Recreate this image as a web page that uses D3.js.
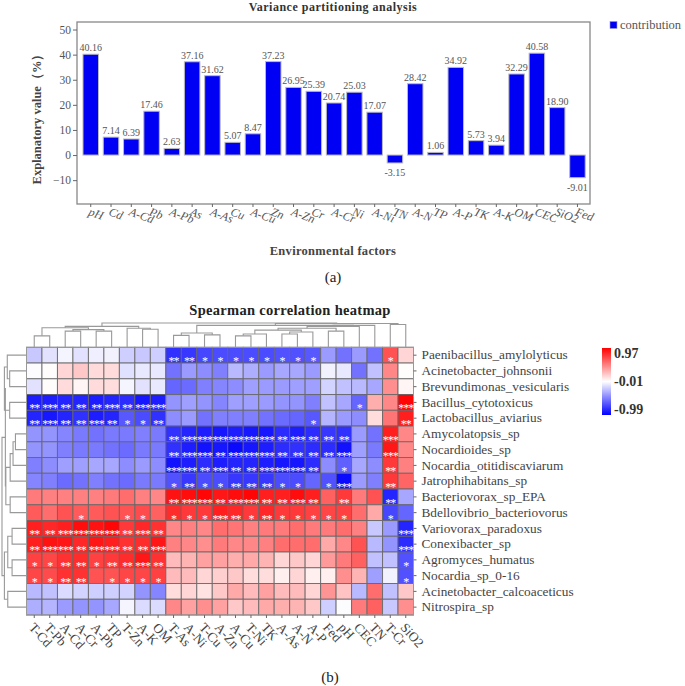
<!DOCTYPE html>
<html><head><meta charset="utf-8">
<script src="https://cdn.jsdelivr.net/npm/d3@7"></script>
<style>
html,body{margin:0;padding:0;background:#fff}
svg{display:block}
text{font-family:"Liberation Serif",serif}
</style></head><body>
<svg id="c" width="685" height="686"></svg>
<script>
// Panel (a)
const factors=["pH","Cd","A-Cd","Pb","A-Pb","As","A-As","Cu","A-Cu","Zn","A-Zn","Cr","A-Cr","Ni","A-Ni","TN","A-N","TP","A-P","TK","A-K","OM","CEC","SiO2","Fed"];
const contribution=[40.16,7.14,6.39,17.46,2.63,37.16,31.62,5.07,8.47,37.23,26.95,25.39,20.74,25.03,17.07,-3.15,28.42,1.06,34.92,5.73,3.94,32.29,40.58,18.90,-9.01];
const yTicks=[-10,0,10,20,30,40,50];
// Panel (b)
const colLabels=["T-Cd","T-Pb","A-Cd","A-Cr","A-Pb","TP","T-Zn","A-K","OM","T-As","A-Ni","T-Cu","A-Zn","A-Cu","T-Ni","TK","A-As","A-N","A-P","Fed","pH","CEC","TN","T-Cr","SiO2"];
const rowLabels=["Paenibacillus_amylolyticus","Acinetobacter_johnsonii","Brevundimonas_vesicularis","Bacillus_cytotoxicus","Lactobacillus_aviarius","Amycolatopsis_sp","Nocardioides_sp","Nocardia_otitidiscaviarum","Jatrophihabitans_sp","Bacteriovorax_sp_EPA","Bdellovibrio_bacteriovorus","Variovorax_paradoxus","Conexibacter_sp","Agromyces_humatus","Nocardia_sp_0-16","Acinetobacter_calcoaceticus","Nitrospira_sp"];
const corr=[
[-.22,-.12,-.05,-.12,-.07,-.06,-.2,-.22,-.2,-.8,-.78,-.72,-.7,-.7,-.7,-.7,-.68,-.68,-.65,-.4,-.55,-.4,-.55,.65,.15],
[-.02,0,.15,.2,.13,.13,-.13,-.1,-.1,-.55,-.4,-.45,-.5,-.28,-.32,-.4,-.35,-.35,-.4,-.06,-.1,-.55,-.25,.45,0],
[-.12,0,.13,.03,.13,.12,-.05,-.12,-.1,-.6,-.58,-.5,-.48,-.45,-.38,-.4,-.4,-.38,-.38,-.18,-.25,-.28,-.35,.42,.03],
[-.88,-.88,-.85,-.85,-.88,-.85,-.82,-.9,-.88,-.42,-.38,-.42,-.48,-.38,-.38,-.4,-.42,-.42,-.5,-.25,-.35,-.6,.3,.45,.95],
[-.85,-.9,-.85,-.8,-.88,-.85,-.65,-.7,-.8,-.45,-.4,-.55,-.5,-.5,-.5,-.55,-.58,-.6,-.65,-.3,-.4,-.45,.12,.52,.85],
[-.42,-.42,-.48,-.52,-.55,-.52,-.52,-.5,-.52,-.8,-.85,-.88,-.9,-.88,-.9,-.9,-.82,-.88,-.82,-.78,-.8,-.4,-.55,.85,.45],
[-.42,-.42,-.5,-.52,-.52,-.55,-.58,-.52,-.52,-.8,-.88,-.92,-.9,-.95,-.9,-.88,-.82,-.8,-.82,-.82,-.92,-.38,-.52,.88,.45],
[-.5,-.45,-.38,-.38,-.35,-.35,-.45,-.4,-.45,-.92,-.88,-.82,-.88,-.85,-.85,-.88,-.9,-.9,-.82,-.45,-.62,-.35,-.45,.75,.48],
[-.48,-.5,-.58,-.55,-.5,-.55,-.58,-.52,-.52,-.68,-.78,-.7,-.7,-.78,-.78,-.78,-.7,-.7,-.6,-.68,-.95,-.4,-.5,.75,.58],
[.5,.48,.48,.48,.48,.5,.55,.48,.45,.9,.92,.95,.88,.92,.95,.85,.85,.92,.85,.6,.75,.5,.65,-.85,-.35],
[.62,.55,.65,.62,.62,.65,.65,.68,.6,.8,.75,.75,.85,.82,.75,.82,.75,.75,.72,.7,.72,.55,.32,-.72,-.6],
[.85,.82,.85,.92,.9,.95,.75,.82,.78,.45,.48,.45,.55,.52,.48,.5,.5,.55,.5,.5,.55,.48,-.22,-.4,-.85],
[.85,.9,.88,.82,.88,.85,.78,.8,.88,.48,.45,.42,.5,.45,.45,.48,.55,.55,.55,.32,.45,.65,-.28,-.42,-.82],
[.72,.7,.78,.8,.72,.75,.8,.88,.78,.25,.28,.35,.35,.3,.32,.28,.15,.2,.15,.38,.5,.6,-.25,-.25,-.68],
[.7,.68,.78,.78,.65,.65,.7,.7,.72,.25,.25,.15,.18,.2,.12,.12,.05,.15,.05,.05,.42,.28,-.38,-.06,-.68],
[-.28,-.25,-.15,-.18,-.2,-.2,-.18,-.42,-.48,.12,.15,.1,.2,.32,.25,.35,.25,.25,.15,.4,.22,-.28,.55,-.25,.2],
[-.32,-.3,-.4,-.42,-.42,-.35,-.05,-.15,-.15,.45,.35,.42,.35,.2,.25,.32,.3,.28,.2,-.2,-.02,.5,.6,-.22,.42]
];
// number of asterisks per cell
const sig=[
"0000000002211111111000010",
"0000000000000000000000000",
"0000000000000000000000000",
"2322232330000000000001003",
"2322321120000000001000002",
"0000000002333333232220030",
"0000000002332333222230030",
"0000000003323223332010020",
"0000000001211222110130020",
"0000000002332332232020020",
"0001001101113212111110010",
"2233332320000000000000003",
"2332332230000000000000003",
"1122122320000000000000001",
"1122011110000000000000001",
"0000000000000000000000000",
"0000000000000000000000000"
];
// dendrograms: [merge height, left, right]; a number is a leaf index
const colTreeFull=[25.5,
  [22,
    [20.5,[12,0,1],[18.5,[17,2,3],[17,4,5]]],
    [20,6,[19,7,8]]
  ],
  [25,
    [23,
      [15,[12.5,9,10],[13,11,12]],
      [23,
        [22,
          [20,
            [18,[14,[12,13,14],15],[16,[14,16,17],18]],
            [17,19,20]
          ],
          21
        ],
        22
      ]
    ],
    [24,23,24]
  ]
];
const rowTreeFull=[25.5,
  [22,
    [23,[20,0,[17.5,1,2]],[17.5,3,4]],
    [21.5,[17,[14,[11.5,5,6],7],8],[17,9,10]]
  ],
  [23,
    [19.5,[15,11,12],[15,13,14]],
    [19.5,15,16]
  ]
];

const svg=d3.select("#c");
const axisGrey="#666", textGrey="#555";

// ---------- Panel (a)
const x=d3.scaleBand().domain(factors).range([80.6,587.6]).paddingInner(.235).paddingOuter(.118);
const y=d3.scaleLinear().domain([-19.5,53]).range([204,22]);
const a=svg.append("g");
a.append("rect").attr("x",77).attr("y",22).attr("width",513).attr("height",182).attr("fill","none").attr("stroke","#888").attr("stroke-width",1.3);
a.selectAll(".bar").data(contribution).join("rect").attr("class","bar")
 .attr("x",(d,i)=>x(factors[i])).attr("width",x.bandwidth())
 .attr("y",d=>y(Math.max(d,0))).attr("height",d=>Math.abs(y(d)-y(0)))
 .attr("fill","#0000f5").attr("stroke","#bbb").attr("stroke-width",1);
a.selectAll(".val").data(contribution).join("text").attr("class","val")
 .attr("x",(d,i)=>x(factors[i])+x.bandwidth()/2)
 .attr("y",d=>d>=0?y(d)-3:y(d)+13).attr("text-anchor","middle")
 .attr("font-size",10).attr("fill",textGrey).text(d=>d.toFixed(2));
const yAx=a.append("g").attr("transform","translate(77,0)").call(d3.axisLeft(y).tickValues(yTicks).tickSize(4).tickPadding(2));
yAx.select(".domain").remove();
yAx.selectAll("line").attr("stroke",axisGrey);
yAx.selectAll("text").attr("font-size",11.5).attr("fill",textGrey).attr("font-family","Liberation Serif");
const xBand=d3.scaleBand().domain(factors).range([80.6,587.6]);
const xAx=a.append("g").attr("transform","translate(0,204)").call(d3.axisBottom(xBand).tickSize(3));
xAx.select(".domain").remove();
xAx.selectAll("line").attr("stroke",axisGrey);
xAx.selectAll("text").attr("font-size",12).attr("font-style","italic").attr("fill",textGrey)
 .attr("font-family","Liberation Serif").attr("text-anchor","start")
 .attr("x",0).attr("y",0).attr("dy",0).attr("transform","translate(-3,11) rotate(20)");
svg.append("text").attr("x",333).attr("y",10.8).attr("text-anchor","middle").attr("font-size",12).attr("font-weight","bold").attr("fill","#333").attr("letter-spacing",".5").text("Variance partitioning analysis");
svg.append("text").attr("transform","translate(41,116) rotate(-90)").attr("text-anchor","middle").attr("font-size",12.5).attr("font-weight","bold").attr("fill","#444").attr("font-family","Liberation Serif, Noto Sans CJK SC").text("Explanatory value（%）");
svg.append("text").attr("x",333).attr("y",255).attr("text-anchor","middle").attr("font-size",12.5).attr("font-weight","bold").attr("fill","#444").attr("letter-spacing",".3").text("Environmental factors");
svg.append("text").attr("x",333).attr("y",282).attr("text-anchor","middle").attr("font-size",15).attr("fill","#222").text("(a)");
svg.append("rect").attr("x",610).attr("y",21.5).attr("width",7).attr("height",7).attr("fill","#0000f5").attr("stroke","#99c").attr("stroke-width",.6);
svg.append("text").attr("x",620).attr("y",28.5).attr("font-size",12.5).attr("fill",textGrey).text("contribution");

// ---------- Panel (b)
const hx=d3.scaleBand().domain(colLabels).range([26.5,413.5]);
const hy=d3.scaleBand().domain(rowLabels).range([347.3,615]);
const color=d3.scaleLinear().domain([-.99,-.01,.97]).range(["#0000ff","#ffffff","#ff0000"]);
const cells=corr.flatMap((r,i)=>r.map((v,j)=>({v,i,j,s:+sig[i][j]})));
const h=svg.append("g");
h.selectAll(".cell").data(cells).join("rect").attr("class","cell")
 .attr("x",d=>hx(colLabels[d.j])).attr("y",d=>hy(rowLabels[d.i]))
 .attr("width",hx.bandwidth()).attr("height",hy.bandwidth())
 .attr("fill",d=>color(d.v)).attr("stroke","#666").attr("stroke-opacity",.85).attr("stroke-width",1);
h.append("rect").attr("x",26.5).attr("y",347.3).attr("width",387).attr("height",267.7).attr("fill","none").attr("stroke","#999").attr("stroke-width",1);
h.selectAll(".star").data(cells.filter(d=>d.s>0)).join("text").attr("class","star")
 .attr("x",d=>hx(colLabels[d.j])+hx.bandwidth()/2).attr("y",d=>hy(rowLabels[d.i])+hy.bandwidth()+2)
 .attr("text-anchor","middle").attr("font-size",12).attr("letter-spacing",-1).attr("font-family","DejaVu Sans").attr("fill","#fff").text(d=>"*".repeat(d.s));
const rAx=h.append("g").attr("transform","translate(413.5,0)").call(d3.axisRight(hy).tickSize(3).tickPadding(5));
rAx.select(".domain").remove();
rAx.selectAll("line").attr("stroke",axisGrey);
rAx.selectAll("text").attr("font-size",13.3).attr("fill","#444").attr("font-family","Liberation Serif");
const bAx=h.append("g").attr("transform","translate(0,615)").call(d3.axisBottom(hx).tickSize(3));
bAx.select(".domain").remove();
bAx.selectAll("line").attr("stroke",axisGrey);
bAx.selectAll("text").attr("font-size",13.3).attr("fill","#444").attr("font-family","Liberation Serif")
 .attr("text-anchor","start").attr("x",0).attr("y",0).attr("dy",0).attr("transform","translate(-6,13) rotate(48)");
svg.append("text").attr("x",290).attr("y",315).attr("text-anchor","middle").attr("font-size",14.5).attr("font-weight","bold").attr("fill","#222").attr("letter-spacing",".3").text("Spearman correlation heatmap");
svg.append("text").attr("x",330).attr("y",682).attr("text-anchor","middle").attr("font-size",15).attr("fill","#222").text("(b)");

// dendrograms
function layout(n,pos){
  if(typeof n==="number") return {p:pos(n),h:0,leaf:true};
  const l=layout(n[1],pos), r=layout(n[2],pos);
  return {p:(l.p+r.p)/2,h:n[0],l,r};
}
function segs(n,out=[]){
  if(n.leaf) return out;
  out.push({a:n.l.p,b:n.r.p,h:n.h,la:n.l.h,lb:n.r.h});
  segs(n.l,out);segs(n.r,out);return out;
}
const dTop=d3.scaleLinear().domain([0,25.5]).range([347.3,323]);
const dLeft=d3.scaleLinear().domain([0,25.5]).range([26.5,2]);
const topSegs=segs(layout(colTreeFull,i=>hx(colLabels[i])+hx.bandwidth()/2));
h.append("g").selectAll("path").data(topSegs).join("path").attr("fill","none").attr("stroke","#999").attr("stroke-width",1.1)
 .attr("d",d=>`M${d.a},${dTop(d.la)}V${dTop(d.h)}H${d.b}V${dTop(d.lb)}`);
const leftSegs=segs(layout(rowTreeFull,i=>hy(rowLabels[i])+hy.bandwidth()/2));
h.append("g").selectAll("path").data(leftSegs).join("path").attr("fill","none").attr("stroke","#999").attr("stroke-width",1.1)
 .attr("d",d=>`M${dLeft(d.la)},${d.a}H${dLeft(d.h)}V${d.b}H${dLeft(d.lb)}`);

// colour legend
const legendStops=[.97,-.01,-.99];
const grad=svg.append("defs").append("linearGradient").attr("id","g").attr("x1",0).attr("x2",0).attr("y1",0).attr("y2",1);
grad.selectAll("stop").data(legendStops).join("stop").attr("offset",(d,i)=>i/2).attr("stop-color",d=>color(d));
svg.append("rect").attr("x",602).attr("y",348).attr("width",9).attr("height",67).attr("fill","url(#g)");
const legY=d3.scalePoint().domain(legendStops).range([357.5,413.5]);
svg.selectAll(".leg").data(legendStops).join("text").attr("class","leg")
 .attr("x",614).attr("y",d=>legY(d)).attr("font-size",14).attr("font-weight","bold").attr("fill","#333").text(d=>d.toFixed(2));
</script>
</body></html>
